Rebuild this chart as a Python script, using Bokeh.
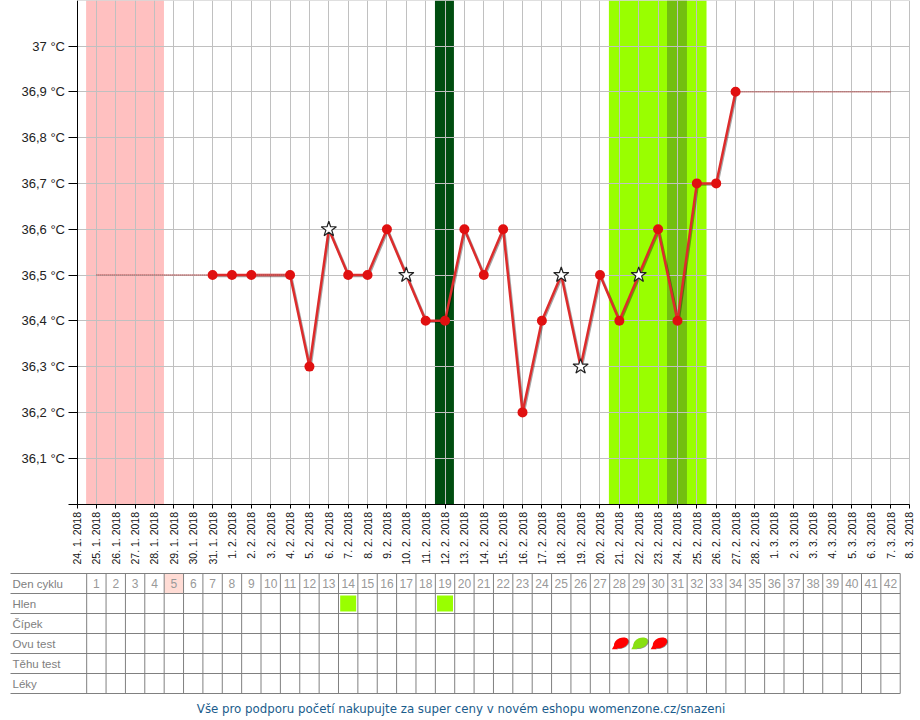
from bokeh.plotting import figure
from bokeh.models import Range1d, FixedTicker, LinearAxis, Grid
from bokeh.core.properties import value
from bokeh.embed import file_html
from bokeh.resources import INLINE

date_labels = ["24. 1. 2018","25. 1. 2018","26. 1. 2018","27. 1. 2018","28. 1. 2018","29. 1. 2018","30. 1. 2018","31. 1. 2018",
 "1. 2. 2018","2. 2. 2018","3. 2. 2018","4. 2. 2018","5. 2. 2018","6. 2. 2018","7. 2. 2018","8. 2. 2018","9. 2. 2018","10. 2. 2018",
 "11. 2. 2018","12. 2. 2018","13. 2. 2018","14. 2. 2018","15. 2. 2018","16. 2. 2018","17. 2. 2018","18. 2. 2018","19. 2. 2018","20. 2. 2018",
 "21. 2. 2018","22. 2. 2018","23. 2. 2018","24. 2. 2018","25. 2. 2018","26. 2. 2018","27. 2. 2018","28. 2. 2018",
 "1. 3. 2018","2. 3. 2018","3. 3. 2018","4. 3. 2018","5. 3. 2018","6. 3. 2018","7. 3. 2018","8. 3. 2018"]
y_ticks = [36.0,36.1,36.2,36.3,36.4,36.5,36.6,36.7,36.8,36.9,37.0]
y_labels = ["","36,1 °C","36,2 °C","36,3 °C","36,4 °C","36,5 °C","36,6 °C","36,7 °C","36,8 °C","36,9 °C","37 °C"]

meas_days = [7,8,9,11,12,13,14,15,16,17,18,19,20,21,22,23,24,25,26,27,28,29,30,31,32,33,34]
meas_temp = [36.5,36.5,36.5,36.5,36.3,36.6,36.5,36.5,36.6,36.5,36.4,36.4,36.6,36.5,36.6,36.2,36.4,36.5,36.3,36.5,36.4,36.5,36.6,36.4,36.7,36.7,36.9]
star_days = [13,17,25,26,29]
dot_x1 = [1,9,34]
dot_x2 = [7,11,42]
dot_y = [36.5,36.5,36.9]

band_start = [0.47,18.48,27.46,30.46]
band_end = [4.49,19.46,32.5,31.49]
band_color = ["#ffc0c0","#004d10","#99ff00","#73bf10"]

row_names = ["Den cyklu","Hlen","Čípek","Ovu test","Těhu test","Léky"]
cycle_days = list(range(1,43))
hlen_days = [14,19]
ovu_days = [28,29,30]
ovu_colors = ["#ff0000","#88e010","#ff0000"]
footer = "Vše pro podporu početí nakupujte za super ceny v novém eshopu womenzone.cz/snazeni"

GRID = "#c0c0c0"
W, H = 915, 718
OX, DX = 76.5, 19.37          # page x of day 0, px per day
Y37, DY = 45.5, 458.0         # page y of 37 °C, px per °C
T_TOP = 573.0                 # page y of table top
ROW = 20.0

def tx(px): return (px-OX)/DX
def ty(py): return 37-(py-Y37)/DY

p = figure(width=W, height=H, x_range=Range1d(tx(0),tx(W)), y_range=Range1d(ty(H),ty(0)),
           output_backend="svg", toolbar_location=None, min_border=0, outline_line_color=None,
           x_axis_type=None, y_axis_type=None)
p.extra_y_ranges = {"tb": Range1d((H-T_TOP)/ROW, -T_TOP/ROW),
                    "sh": Range1d(ty(H-1),ty(-1))}
p.extra_x_ranges = {"sh": Range1d(tx(-1),tx(W-1))}

xticks = list(range(len(date_labels)))
xax = LinearAxis(fixed_location=36.0, ticker=FixedTicker(ticks=xticks), bounds=(0,43),
                 major_label_overrides={i:s for i,s in enumerate(date_labels)},
                 major_label_orientation=1.5707963, major_tick_in=0, major_tick_out=4,
                 minor_tick_line_color=None, major_label_text_font="Liberation Sans",
                 major_label_text_font_size="10.5px", major_label_text_color="#111111",
                 major_label_standoff=4, axis_line_color="black", major_tick_line_color="black")
p.add_layout(xax,"below")
yax = LinearAxis(fixed_location=0, ticker=FixedTicker(ticks=y_ticks), bounds=(36.0,37.1),
                 major_label_overrides={t:s for t,s in zip(y_ticks,y_labels)},
                 major_tick_in=0, major_tick_out=9, minor_tick_line_color=None,
                 major_label_text_font="Liberation Sans", major_label_text_font_size="13px",
                 major_label_text_color="#222222", major_label_standoff=3,
                 axis_line_color="black", major_tick_line_color="black")
p.add_layout(yax,"left")
p.add_layout(Grid(dimension=0, ticker=FixedTicker(ticks=xticks), bounds=(0,43), cross_bounds=(36.0,37.1), grid_line_color=GRID))
p.add_layout(Grid(dimension=1, ticker=FixedTicker(ticks=y_ticks+[37.1]), bounds=(36.0,37.1), cross_bounds=(0,43), grid_line_color=GRID))

p.quad(left=band_start, right=band_end, bottom=36.0, top=37.1, fill_color=band_color, line_color=None, level="image")

p.line(meas_days, meas_temp, x_range_name="sh", y_range_name="sh", line_color="black", line_alpha=0.35, line_width=2.5)
p.line(meas_days, meas_temp, line_color="#dd2c2c", line_width=2.5)
p.segment(x0=dot_x1, x1=dot_x2, y0=dot_y, y1=dot_y, line_color="#f09090", line_width=1.5, line_alpha=0.6)
p.segment(x0=dot_x1, x1=dot_x2, y0=dot_y, y1=dot_y, line_color="#704040", line_width=1, line_dash="1 1")
plain = [(d,t) for d,t in zip(meas_days,meas_temp) if d not in star_days]
p.scatter([d for d,t in plain],[t for d,t in plain], marker="circle", size=10, fill_color="#e01010", line_color=None)
st = [(d,t) for d,t in zip(meas_days,meas_temp) if d in star_days]
p.scatter([d for d,t in st],[t for d,t in st], marker="star", size=16, fill_color="white", line_color="#222222", line_width=1.2)

# ---- table ----
n_rows = len(row_names)
p.quad(left=[4.5], right=[5.5], top=[0], bottom=[1], fill_color="#ffdcd5", line_color=None, y_range_name="tb")
left_x = tx(10)
p.segment(x0=[left_x]*(n_rows+1), x1=[cycle_days[-1]+0.5]*(n_rows+1), y0=list(range(n_rows+1)), y1=list(range(n_rows+1)),
          line_color="#808080", line_width=1, y_range_name="tb")
edges = [d-0.5 for d in cycle_days]+[cycle_days[-1]+0.5]
p.segment(x0=edges, x1=edges, y0=[0]*len(edges), y1=[n_rows]*len(edges), line_color="#808080", line_width=1, y_range_name="tb")
p.text(x=[tx(12)]*n_rows, y=[i+0.5 for i in range(n_rows)], text=row_names, text_font=value("Liberation Sans"),
       text_font_size="11.5px", text_color="#808080", text_baseline="middle", text_align="left", y_range_name="tb")
p.text(x=cycle_days, y=[0.5]*len(cycle_days), text=[str(d) for d in cycle_days], text_font=value("Liberation Sans"),
       text_font_size="12px", text_color="#999999", text_baseline="middle", text_align="center", y_range_name="tb")
p.scatter(hlen_days, [1.5]*len(hlen_days), marker="square", size=16, fill_color="#99ff00", line_color=None, y_range_name="tb")
p.ellipse([d+0.12 for d in ovu_days], [3.5]*3, width=16, height=10, width_units="screen", height_units="screen", angle=0.4,
          fill_color="#222222", line_color=None, fill_alpha=0.5, y_range_name="tb")
p.ellipse([d+0.1 for d in ovu_days], [3.47]*3, width=15, height=10, width_units="screen", height_units="screen", angle=0.4,
          fill_color=ovu_colors, line_color=None, y_range_name="tb")
p.scatter([d-0.23 for d in ovu_days], [3.7]*3, marker="triangle", size=6, fill_color=ovu_colors, line_color=None, y_range_name="tb")
p.text(x=[tx(460.5)], y=[6.75], text=[footer], text_font=value("DejaVu Sans"), text_font_size="11.8px",
       text_color="#1a5c8c", text_baseline="middle", text_align="center", y_range_name="tb")

open("out.html","w").write(file_html(p, INLINE))
